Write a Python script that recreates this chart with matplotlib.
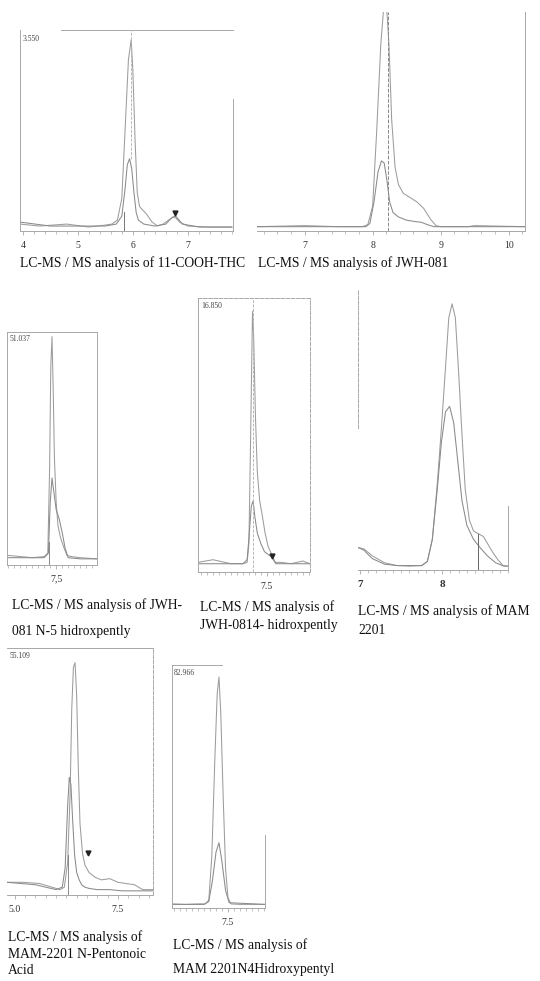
import numpy as np
import matplotlib
matplotlib.use("Agg")
import matplotlib.pyplot as plt
from matplotlib.ticker import FixedLocator, MultipleLocator

plt.rcParams['font.family'] = ['Liberation Serif', 'DejaVu Serif']

W, H = 540, 981
LINE = '#9c9c9c'
SPINE = '#a8a8a8'

# ---- panel 1: 11-COOH-THC
t1a = [3.95, 4.3, 4.8, 5.2, 5.5, 5.62, 5.72, 5.8, 5.86, 5.92, 5.97, 6.0, 6.04, 6.08, 6.12, 6.18, 6.25, 6.35, 6.45, 6.55, 6.65, 6.75, 6.85, 7.0, 7.4, 7.8]
i1a = [2, 1, 2, 0.5, 1.5, 2, 4, 15, 50, 85, 95, 80, 45, 18, 11, 9, 7, 3, 1, 2, 4, 6, 3, 1, 0.5, 0.5]
t1b = [3.95, 4.5, 5.0, 5.5, 5.7, 5.8, 5.86, 5.9, 5.94, 5.98, 6.02, 6.06, 6.1, 6.2, 6.4, 6.6, 6.7, 6.78, 6.9, 7.2, 7.8]
i1b = [3, 1, 1, 1, 2, 6, 20, 32, 35, 30, 18, 8, 4, 2, 1, 2, 5, 6, 2, 0.5, 0.5]
ticks1 = [4, 5, 6, 7]

# ---- panel 2: JWH-081
t2a = [6.3, 7.0, 7.5, 7.85, 7.93, 8.0, 8.06, 8.12, 8.17, 8.2, 8.24, 8.28, 8.33, 8.38, 8.45, 8.55, 8.65, 8.75, 8.85, 8.93, 9.0, 9.4, 9.5, 10.24]
i2a = [0.5, 1, 0.5, 0.5, 1.5, 10, 45, 85, 105, 105, 85, 50, 28, 20, 16, 14, 12, 9, 4, 1, 0.5, 0.5, 1, 0.5]
t2b = [6.3, 7.5, 7.9, 7.96, 8.02, 8.08, 8.13, 8.17, 8.21, 8.25, 8.3, 8.38, 8.5, 8.6, 8.72, 8.8, 8.9, 9.5, 10.24]
i2b = [0.5, 0.5, 0.5, 2, 12, 26, 31, 30, 22, 12, 7, 5, 3.5, 3, 2.5, 1.5, 0.5, 0.5, 0.5]
ticks2 = [7, 8, 9, 10]

# ---- panel 3: JWH-081 N-5 hidroxpently
t3a = [6.7, 6.9, 7.1, 7.3, 7.36, 7.39, 7.41, 7.43, 7.45, 7.47, 7.5, 7.53, 7.57, 7.62, 7.68, 7.75, 7.9, 8.18]
i3a = [2, 1.5, 1, 1.5, 3, 40, 85, 98, 75, 45, 25, 15, 10, 6, 2, 1.5, 1, 0.5]
t3b = [6.7, 7.3, 7.37, 7.4, 7.43, 7.46, 7.5, 7.55, 7.6, 7.65, 7.7, 7.9, 8.18]
i3b = [1, 1, 3, 25, 36, 30, 22, 18, 12, 5, 1, 0.5, 0.5]

# ---- panel 4: JWH-0814- hidroxpently
t4a = [6.35, 6.6, 6.9, 7.1, 7.17, 7.2, 7.23, 7.26, 7.28, 7.31, 7.34, 7.38, 7.42, 7.47, 7.52, 7.58, 7.64, 7.75, 7.9, 8.1, 8.22]
i4a = [1, 2, 0.5, 0.5, 1, 8, 50, 95, 85, 55, 35, 24, 19, 12, 7, 4, 1, 1, 0.5, 1.5, 0.5]
t4b = [6.35, 7.1, 7.17, 7.2, 7.24, 7.27, 7.3, 7.34, 7.4, 7.46, 7.52, 7.58, 7.65, 8.22]
i4b = [0.5, 0.5, 2, 10, 22, 24, 18, 12, 8, 5, 4, 3, 0.5, 0.5]

# ---- panel 5: MAM 2201
t5a = [6.98, 7.05, 7.15, 7.3, 7.45, 7.6, 7.75, 7.82, 7.88, 7.94, 7.99, 8.04, 8.08, 8.12, 8.16, 8.2, 8.24, 8.28, 8.33, 8.38, 8.44, 8.5, 8.56, 8.62, 8.68, 8.74, 8.8]
i5a = [7, 6.5, 4, 1.5, 0.5, 0.3, 0.5, 2, 10, 30, 50, 72, 90, 95, 90, 70, 48, 28, 17, 13, 12, 11, 8, 5, 2.5, 0.5, 0.3]
t5b = [6.98, 7.05, 7.15, 7.3, 7.45, 7.75, 7.82, 7.88, 7.94, 7.99, 8.04, 8.09, 8.14, 8.19, 8.24, 8.3, 8.38, 8.46, 8.55, 8.65, 8.75, 8.8]
i5b = [7, 6, 3, 1, 0.5, 0.5, 2, 10, 28, 45, 56, 58, 52, 38, 24, 15, 10, 7, 4, 1.5, 0.3, 0.3]
ticks5 = [7, 8]

# ---- panel 6: MAM-2201 N-Pentonoic Acid
t6a = [4.81, 5.2, 5.6, 5.9, 6.1, 6.2, 6.28, 6.34, 6.38, 6.42, 6.46, 6.5, 6.54, 6.58, 6.64, 6.7, 6.8, 6.95, 7.1, 7.3, 7.5, 7.7, 7.9, 8.1, 8.35]
i6a = [4, 4, 3.5, 2, 1, 2, 12, 40, 75, 92, 94, 80, 50, 28, 16, 11, 8, 6, 5, 5.5, 4, 3.5, 3, 1, 1]
t6b = [4.81, 5.5, 6.0, 6.15, 6.22, 6.28, 6.32, 6.36, 6.4, 6.45, 6.5, 6.56, 6.62, 6.7, 6.8, 7.0, 7.3, 7.6, 8.0, 8.35]
i6b = [4, 3, 1, 2, 10, 35, 47, 44, 30, 15, 8, 5, 3, 2, 1.5, 1, 1, 0.5, 0.5, 0.5]
ticks6 = [5.0, 7.5]

# ---- panel 7: MAM 2201N4Hidroxypentyl
t7a = [6.57, 6.8, 7.0, 7.12, 7.18, 7.23, 7.28, 7.32, 7.35, 7.38, 7.42, 7.46, 7.5, 7.55, 7.7, 8.12]
i7a = [0.5, 0.3, 0.5, 0.5, 2, 20, 60, 88, 95, 80, 45, 15, 3, 0.5, 0.3, 0.3]
t7b = [6.57, 7.1, 7.18, 7.24, 7.3, 7.35, 7.4, 7.46, 7.52, 8.12]
i7b = [0.3, 0.3, 1.5, 10, 22, 26, 18, 6, 1, 0.3]

max_labels = ['3.550', '', '51.037', '16.850', '', '55.109', '82.966']

fig = plt.figure(figsize=(W / 100, H / 100), dpi=100)


def panel(l, t, r, b, xlim, ylo, ticks, ticklabels, minor):
    ax = fig.add_axes([l / W, 1 - b / H, (r - l) / W, (b - t) / H])
    ax.set_xlim(*xlim)
    ax.set_ylim(ylo, 100)
    ax.set_yticks([])
    ax.xaxis.set_major_locator(FixedLocator(ticks))
    ax.set_xticklabels(ticklabels, fontsize=7, color='#333333')
    ax.xaxis.set_minor_locator(MultipleLocator(minor))
    ax.tick_params(axis='x', which='major', length=3, width=0.6, color=SPINE, pad=4)
    ax.tick_params(axis='x', which='minor', length=2, width=0.5, color=SPINE)
    for s in ax.spines.values():
        s.set_color(SPINE)
        s.set_linewidth(0.7)
    ax.patch.set_alpha(0)
    return ax


def curves(ax, ta, ia, tb, ib):
    ax.plot(ta, ia, color=LINE, lw=0.75)
    ax.plot(tb, ib, color='#8a8a8a', lw=0.75)


# panel 1
ax = panel(20, 30, 233, 231, (3.95, 7.82), -1.5, ticks1, [str(v) for v in ticks1], 0.2)
curves(ax, t1a, i1a, t1b, i1b)
ax.plot([5.84, 5.84], [-1.5, 8], color='#777777', lw=0.7)
ax.plot([5.97, 5.97], [35, 100], color='#b0b0b0', lw=0.6, ls='--')
ax.plot([6.76], [7.5], marker='v', color='#222222', ms=3.5)
ax.spines['top'].set_bounds(4.7, 7.82)
ax.spines['right'].set_bounds(-1.5, 65)
ax.text(0.01, 0.975, max_labels[0], transform=ax.transAxes, fontsize=5.5, va='top', color='#444444')

# panel 2
ax = panel(257, 12, 525, 231, (6.3, 10.24), -1.5, ticks2, [str(v) for v in ticks2], 0.2)
curves(ax, t2a, i2a, t2b, i2b)
ax.axvline(8.22, color='#888888', lw=0.7, ls='--')
ax.spines['left'].set_visible(False)
ax.spines['top'].set_visible(False)

# panel 3
ax = panel(7, 332, 97, 565, (6.68, 8.18), -2.2, [7.5], ['7,5'], 0.1)
curves(ax, t3a, i3a, t3b, i3b)
ax.plot([7.38, 7.38], [-2.2, 8], color='#777777', lw=0.6)
ax.text(0.03, 0.985, max_labels[2], transform=ax.transAxes, fontsize=5.5, va='top', color='#444444')

# panel 4
ax = panel(198, 298, 310, 572, (6.35, 8.22), -2.6, [7.5], ['7.5'], 0.1)
curves(ax, t4a, i4a, t4b, i4b)
ax.axvline(7.27, color='#b0b0b0', lw=0.6, ls='--')
ax.plot([7.58], [3.5], marker='v', color='#222222', ms=3.5)
ax.spines['top'].set_linestyle('--')
ax.spines['right'].set_linestyle('--')
ax.text(0.03, 0.985, max_labels[3], transform=ax.transAxes, fontsize=5.5, va='top', color='#444444')

# panel 5
ax = panel(358, 290, 508, 570, (6.976, 8.8), -1.1, ticks5, [str(v) for v in ticks5], 0.1)
ax.set_xticklabels([str(v) for v in ticks5], fontsize=8, fontweight='bold')
curves(ax, t5a, i5a, t5b, i5b)
ax.plot([8.44, 8.44], [-1.1, 12], color='#666666', lw=0.7)
ax.spines['top'].set_visible(False)
ax.spines['left'].set_bounds(50, 100)
ax.spines['left'].set_linestyle('--')
ax.spines['right'].set_bounds(-1.1, 22)

# panel 6
ax = panel(7, 648, 153, 895, (4.81, 8.35), -1.2, ticks6, ['5.0', '7.5'], 0.25)
curves(ax, t6a, i6a, t6b, i6b)
ax.plot([6.29, 6.29], [-1.2, 15], color='#777777', lw=0.6)
ax.plot([6.78], [16], marker='v', color='#222222', ms=3.5)
ax.spines['left'].set_visible(False)
ax.spines['right'].set_linestyle('--')
ax.text(0.02, 0.985, max_labels[5], transform=ax.transAxes, fontsize=5.5, va='top', color='#444444')

# panel 7
ax = panel(172, 665, 265, 908, (6.567, 8.117), -1.2, [7.5], ['7.5'], 0.1)
curves(ax, t7a, i7a, t7b, i7b)
ax.spines['top'].set_bounds(6.567, 7.4)
ax.spines['right'].set_bounds(-1.2, 29)
ax.text(0.02, 0.985, max_labels[6], transform=ax.transAxes, fontsize=5.5, va='top', color='#444444')

# captions
captions = [
    (20, 263, "LC-MS / MS analysis of 11-COOH-THC"),
    (258, 263, "LC-MS / MS analysis of JWH-081"),
    (12, 605, "LC-MS / MS analysis of JWH-"),
    (12, 632, "081 N-5 hidroxpently"),
    (200, 607, "LC-MS / MS analysis of"),
    (200, 626, "JWH-0814- hidroxpently"),
    (358, 611, "LC-MS / MS analysis of MAM"),
    (358, 630, "2201"),
    (8, 937, "LC-MS / MS analysis of"),
    (8, 954, "MAM-2201 N-Pentonoic"),
    (8, 971, "Acid"),
    (173, 945, "LC-MS / MS analysis of"),
    (173, 970, "MAM 2201N4Hidroxypentyl"),
]
for x, y, s in captions:
    fig.text(x / W, 1 - y / H, s, fontsize=9.8, va='center', ha='left', color='#111111')

fig.savefig('out.png', dpi=100)
